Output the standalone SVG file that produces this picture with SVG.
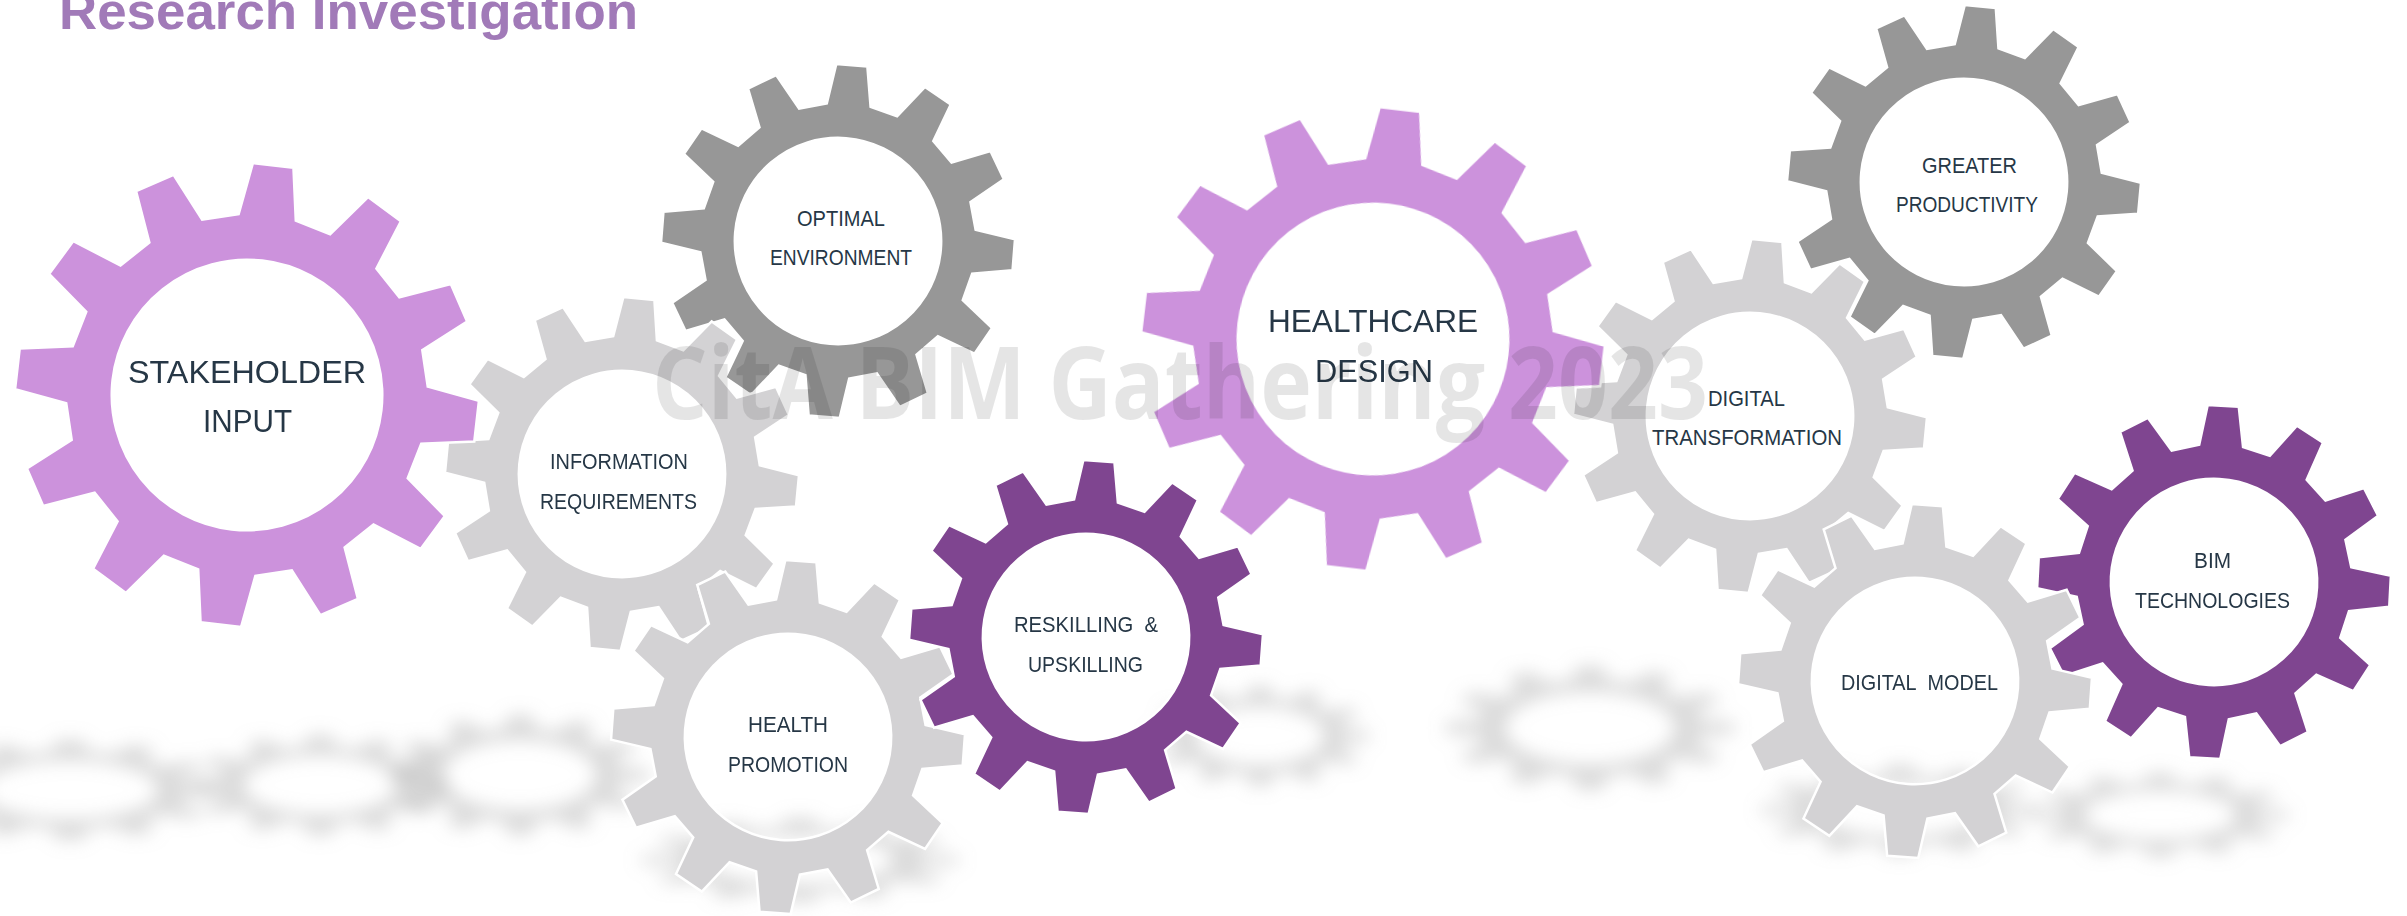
<svg xmlns="http://www.w3.org/2000/svg" xmlns:xlink="http://www.w3.org/1999/xlink" width="2407" height="916" viewBox="0 0 2407 916">
<style>
.lp{fill:#cc92dc}
.dp{fill:#7f4590}
.dg{fill:#979797}
.lg{fill:#d3d2d4}
.gear{stroke:#ffffff}
.t{font-family:"Liberation Sans",Arial,sans-serif;fill:#263746}
.s{font-size:22px}
.b{font-size:32px}
.title{font-family:"Liberation Sans",Arial,sans-serif;font-weight:bold;font-size:52px;fill:#a17ab8}
.wm{font-family:"Open Sans","Liberation Sans",sans-serif;font-weight:bold;font-size:100px;fill:#000000;fill-opacity:0.1}
</style>
<defs>
<path id="gear" fill-rule="evenodd" d="M77.01,-12.4 L99.61,-8.8 L99.61,8.8 L77.01,12.4 L72.89,27.76 L90.67,42.18 L81.87,57.43 L60.49,49.25 L49.25,60.49 L57.43,81.87 L42.18,90.67 L27.76,72.89 L12.4,77.01 L8.8,99.61 L-8.8,99.61 L-12.4,77.01 L-27.76,72.89 L-42.18,90.67 L-57.43,81.87 L-49.25,60.49 L-60.49,49.25 L-81.87,57.43 L-90.67,42.18 L-72.89,27.76 L-77.01,12.4 L-99.61,8.8 L-99.61,-8.8 L-77.01,-12.4 L-72.89,-27.76 L-90.67,-42.18 L-81.87,-57.43 L-60.49,-49.25 L-49.25,-60.49 L-57.43,-81.87 L-42.18,-90.67 L-27.76,-72.89 L-12.4,-77.01 L-8.8,-99.61 L8.8,-99.61 L12.4,-77.01 L27.76,-72.89 L42.18,-90.67 L57.43,-81.87 L49.25,-60.49 L60.49,-49.25 L81.87,-57.43 L90.67,-42.18 L72.89,-27.76 Z M58.3,0 A58.3,58.3 0 1 0 -58.3,0 A58.3,58.3 0 1 0 58.3,0 Z"/>
<filter id="blur" x="-20%" y="-50%" width="140%" height="200%"><feGaussianBlur stdDeviation="9"/></filter>
</defs>

<g id="shadows" filter="url(#blur)" fill="#a6a6a6" fill-opacity="0.4">
<use href="#gear" transform="translate(70,790) scale(1.5,0.5)"/>
<use href="#gear" transform="translate(320,785) scale(1.3,0.5)"/>
<use href="#gear" transform="translate(520,775) scale(1.3,0.6)"/>
<use href="#gear" transform="translate(800,860) scale(1.6,0.42)"/>
<use href="#gear" transform="translate(1260,736) scale(1.1,0.5)"/>
<use href="#gear" transform="translate(1590,728) scale(1.45,0.62)"/>
<use href="#gear" transform="translate(1900,810) scale(1.4,0.45)"/>
<use href="#gear" transform="translate(2160,815) scale(1.3,0.42)"/>
</g>

<text class="title" x="59" y="29" textLength="579" lengthAdjust="spacingAndGlyphs">Research Investigation</text>

<g id="optimal-environment">
<use href="#gear" class="dg gear" stroke-width="1.41" transform="translate(838,241) rotate(4.5) scale(1.77)"/>
<text class="t s" x="797" y="226" textLength="88" lengthAdjust="spacingAndGlyphs">OPTIMAL</text>
<text class="t s" x="770" y="265" textLength="142" lengthAdjust="spacingAndGlyphs">ENVIRONMENT</text>
</g>
<g id="greater-productivity">
<use href="#gear" class="dg gear" stroke-width="1.41" transform="translate(1964,182) rotate(5.3) scale(1.77)"/>
<text class="t s" x="1922" y="173" textLength="95" lengthAdjust="spacingAndGlyphs">GREATER</text>
<text class="t s" x="1896" y="212" textLength="142" lengthAdjust="spacingAndGlyphs">PRODUCTIVITY</text>
</g>
<g id="information-requirements">
<use href="#gear" class="lg gear" stroke-width="1.41" transform="translate(622,474) rotate(5.5) scale(1.77)"/>
<text class="t s" x="550" y="469" textLength="138" lengthAdjust="spacingAndGlyphs">INFORMATION</text>
<text class="t s" x="540" y="509" textLength="157" lengthAdjust="spacingAndGlyphs">REQUIREMENTS</text>
</g>
<g id="health-promotion">
<use href="#gear" class="lg gear" stroke-width="1.41" transform="translate(788,737) rotate(4.2) scale(1.77)"/>
<text class="t s" x="748" y="732" textLength="80" lengthAdjust="spacingAndGlyphs">HEALTH</text>
<text class="t s" x="728" y="772" textLength="120" lengthAdjust="spacingAndGlyphs">PROMOTION</text>
</g>
<g id="stakeholder-input">
<use href="#gear" class="lp gear" stroke-width="1.08" transform="translate(247,395) rotate(6.5) scale(2.32)"/>
<text class="t b" x="128" y="383" textLength="238" lengthAdjust="spacingAndGlyphs">STAKEHOLDER</text>
<text class="t b" x="203" y="432" textLength="89" lengthAdjust="spacingAndGlyphs">INPUT</text>
</g>
<g id="digital-transformation">
<use href="#gear" class="lg gear" stroke-width="1.41" transform="translate(1750,416) rotate(5.5) scale(1.77)"/>
<text class="t s" x="1708" y="406" textLength="77" lengthAdjust="spacingAndGlyphs">DIGITAL</text>
<text class="t s" x="1652" y="445" textLength="190" lengthAdjust="spacingAndGlyphs">TRANSFORMATION</text>
</g>
<g id="bim-technologies">
<use href="#gear" class="dp gear" stroke-width="1.41" transform="translate(2214,582) rotate(3) scale(1.77)"/>
<text class="t s" x="2194" y="568" textLength="37" lengthAdjust="spacingAndGlyphs">BIM</text>
<text class="t s" x="2135" y="608" textLength="155" lengthAdjust="spacingAndGlyphs">TECHNOLOGIES</text>
</g>
<g id="digital-model">
<use href="#gear" class="lg gear" stroke-width="1.41" transform="translate(1915,681) rotate(4) scale(1.77)"/>
<text class="t s" x="1841" y="690" textLength="157" lengthAdjust="spacingAndGlyphs">DIGITAL&#160; MODEL</text>
</g>
<g id="reskilling-upskilling">
<use href="#gear" class="dp gear" stroke-width="1.41" transform="translate(1086,637) rotate(4.2) scale(1.77)"/>
<text class="t s" x="1014" y="632" textLength="144" lengthAdjust="spacingAndGlyphs">RESKILLING &#160;&amp;</text>
<text class="t s" x="1028" y="672" textLength="115" lengthAdjust="spacingAndGlyphs">UPSKILLING</text>
</g>
<g id="healthcare-design">
<use href="#gear" class="lp gear" stroke-width="1.08" transform="translate(1373,339) rotate(6.7) scale(2.32)"/>
<text class="t b" x="1268" y="332" textLength="210" lengthAdjust="spacingAndGlyphs">HEALTHCARE</text>
<text class="t b" x="1315" y="382" textLength="118" lengthAdjust="spacingAndGlyphs">DESIGN</text>
</g>

<text class="wm" x="652" y="419" textLength="1056" lengthAdjust="spacingAndGlyphs">CitA BIM Gathering 2023</text>
</svg>
